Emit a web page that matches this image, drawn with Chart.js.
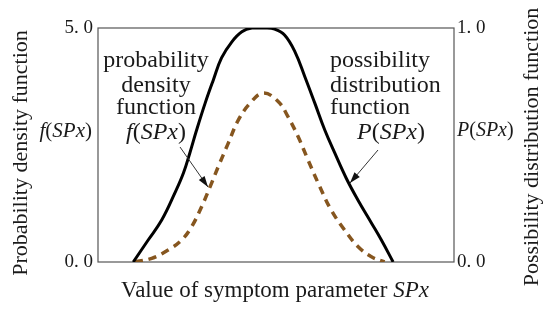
<!DOCTYPE html>
<html>
<head>
<meta charset="utf-8">
<script src="https://cdn.jsdelivr.net/npm/chart.js@4.4.0/dist/chart.umd.min.js"></script>
<style>
html,body{margin:0;padding:0;background:#fff;}
#wrap{width:550px;height:311px;position:relative;}
</style>
</head>
<body>
<div id="wrap"><canvas id="c" width="550" height="311"></canvas></div>
<script>
// Possibility distribution function P(SPx) (right axis, 0..1)
const possX = [9.9, 14.1, 17.9, 21.6, 24.0, 25.8, 27.7, 30.1, 32.4, 34.7, 37.6, 40.4, 43.2, 46.9, 49.6, 52.4, 55.3, 58.1, 60.9, 63.7, 66.5, 69.7, 73.0, 76.8, 79.6, 82.9];
const possY = [0, 0.094, 0.179, 0.295, 0.380, 0.466, 0.564, 0.679, 0.778, 0.872, 0.941, 0.984, 1.0, 1.0, 0.995, 0.970, 0.899, 0.792, 0.679, 0.564, 0.466, 0.359, 0.265, 0.167, 0.094, 0];
// Probability density function f(SPx) (left axis, 0..5)
const densX = [10.4, 15.1, 19.7, 23.5, 26.3, 29.1, 31.5, 33.8, 36.6, 39.4, 42.7, 46.4, 50.6, 53.4, 56.2, 59.0, 62.3, 65.5, 69.3, 73.0, 76.8, 80.5];
const densY = [0, 0.079, 0.256, 0.47, 0.754, 1.18, 1.61, 2.04, 2.54, 3.03, 3.39, 3.61, 3.43, 3.10, 2.68, 2.18, 1.61, 1.11, 0.68, 0.33, 0.11, 0];
// Axis tick labels
const leftTicks = [0, 5];
const rightTicks = [0, 1];
const leftTitle = "Probability density function";
const rightTitle = "Possibility distribution function";
const xTitleParts = [["Value of symptom parameter ", false], ["SPx", true]];
const fLabel = [["f", true], ["(", false], ["SPx", true], [")", false]];
const pLabel = [["P", true], ["(", false], ["SPx", true], [")", false]];
const leftNote = ["probability", "density", "function"];
const rightNote = ["possibility", "distribution", "function"];

const SERIF = '"Liberation Serif", "Times New Roman", serif';
const TXT = '#1a1a1a';

function richWidth(ctx, parts, size) {
  let w = 0;
  for (const [t, it] of parts) {
    ctx.font = (it ? 'italic ' : '') + size + 'px ' + SERIF;
    w += ctx.measureText(t).width;
  }
  return w;
}
function drawRich(ctx, parts, x, y, align, size) {
  const w = richWidth(ctx, parts, size);
  let cx = align === 'center' ? x - w / 2 : (align === 'right' ? x - w : x);
  ctx.textAlign = 'left';
  ctx.textBaseline = 'middle';
  for (const [t, it] of parts) {
    ctx.font = (it ? 'italic ' : '') + size + 'px ' + SERIF;
    ctx.fillText(t, cx, y);
    cx += ctx.measureText(t).width;
  }
}
function arrow(ctx, x1, y1, x2, y2) {
  ctx.save();
  ctx.strokeStyle = '#333';
  ctx.fillStyle = '#111';
  ctx.lineWidth = 1;
  ctx.beginPath(); ctx.moveTo(x1, y1); ctx.lineTo(x2, y2); ctx.stroke();
  const a = Math.atan2(y2 - y1, x2 - x1);
  const L = 11, W = 3.5;
  ctx.beginPath();
  ctx.moveTo(x2, y2);
  ctx.lineTo(x2 - L * Math.cos(a) + W * Math.sin(a), y2 - L * Math.sin(a) - W * Math.cos(a));
  ctx.lineTo(x2 - L * Math.cos(a) - W * Math.sin(a), y2 - L * Math.sin(a) + W * Math.cos(a));
  ctx.closePath(); ctx.fill();
  ctx.restore();
}

const decor = {
  id: 'decor',
  beforeDatasetsDraw(chart) {
    const ctx = chart.ctx, a = chart.chartArea;
    ctx.save();
    ctx.strokeStyle = '#555';
    ctx.lineWidth = 1.2;
    ctx.strokeRect(a.left, a.top, a.right - a.left, a.bottom - a.top);
    ctx.restore();
  },
  afterDraw(chart) {
    const ctx = chart.ctx;
    ctx.save();
    ctx.fillStyle = TXT;
    ctx.font = '22px ' + SERIF;
    ctx.textAlign = 'center'; ctx.textBaseline = 'middle';
    ctx.save(); ctx.translate(21, 153); ctx.rotate(-Math.PI / 2); ctx.fillText(leftTitle, 0, 0); ctx.restore();
    ctx.save(); ctx.translate(532, 147); ctx.rotate(-Math.PI / 2); ctx.fillText(rightTitle, 0, 0); ctx.restore();
    drawRich(ctx, xTitleParts, 275, 291, 'center', 23);
    drawRich(ctx, fLabel, 92, 131, 'right', 21);
    drawRich(ctx, pLabel, 457, 131, 'left', 20);
    const ly = [61, 86, 108];
    leftNote.forEach((t, i) => { ctx.font = '24px ' + SERIF; ctx.textAlign = 'center'; ctx.fillText(t, 156, ly[i]); });
    drawRich(ctx, fLabel, 156, 133, 'center', 24);
    rightNote.forEach((t, i) => { ctx.textAlign = 'left'; ctx.font = '24px ' + SERIF; ctx.fillText(t, 330, ly[i]); });
    drawRich(ctx, pLabel, 357, 133, 'left', 24);
    ctx.restore();
    arrow(ctx, 180, 147, 208, 187);
    arrow(ctx, 378, 150, 350, 183);
  }
};

const fmt = v => v.toFixed(1).replace('.', '. ');

new Chart(document.getElementById('c'), {
  type: 'line',
  data: {
    datasets: [
      {
        label: 'P(SPx)',
        data: possX.map((x, i) => ({ x, y: possY[i] })),
        yAxisID: 'y1',
        borderColor: '#000',
        borderWidth: 3,
        pointRadius: 0,
        fill: false,
        tension: 0.4
      },
      {
        label: 'f(SPx)',
        data: densX.map((x, i) => ({ x, y: densY[i] })),
        yAxisID: 'y',
        borderColor: '#86561f',
        borderWidth: 3.5,
        borderDash: [8, 6],
        pointRadius: 0,
        fill: false,
        tension: 0.4
      }
    ]
  },
  options: {
    responsive: false,
    animation: false,
    events: [],
    layout: { padding: { top: 28, left: 0, right: 0, bottom: 0 } },
    plugins: { legend: { display: false }, tooltip: { enabled: false } },
    scales: {
      x: {
        type: 'linear', min: 0, max: 100,
        ticks: { display: false },
        grid: { display: false, drawTicks: false },
        border: { display: false },
        afterFit(s) { s.height = 49; }
      },
      y: {
        position: 'left', min: 0, max: 5,
        afterBuildTicks(s) { s.ticks = leftTicks.map(v => ({ value: v })); },
        ticks: { callback: fmt, color: TXT, font: { family: SERIF, size: 19 }, padding: 5 },
        grid: { display: false, drawTicks: false },
        border: { display: false },
        afterFit(s) { s.width = 98; }
      },
      y1: {
        position: 'right', min: 0, max: 1,
        afterBuildTicks(s) { s.ticks = rightTicks.map(v => ({ value: v })); },
        ticks: { callback: fmt, color: TXT, font: { family: SERIF, size: 19 }, padding: 3 },
        grid: { display: false, drawTicks: false },
        border: { display: false },
        afterFit(s) { s.width = 96; }
      }
    }
  },
  plugins: [decor]
});
</script>
</body>
</html>
